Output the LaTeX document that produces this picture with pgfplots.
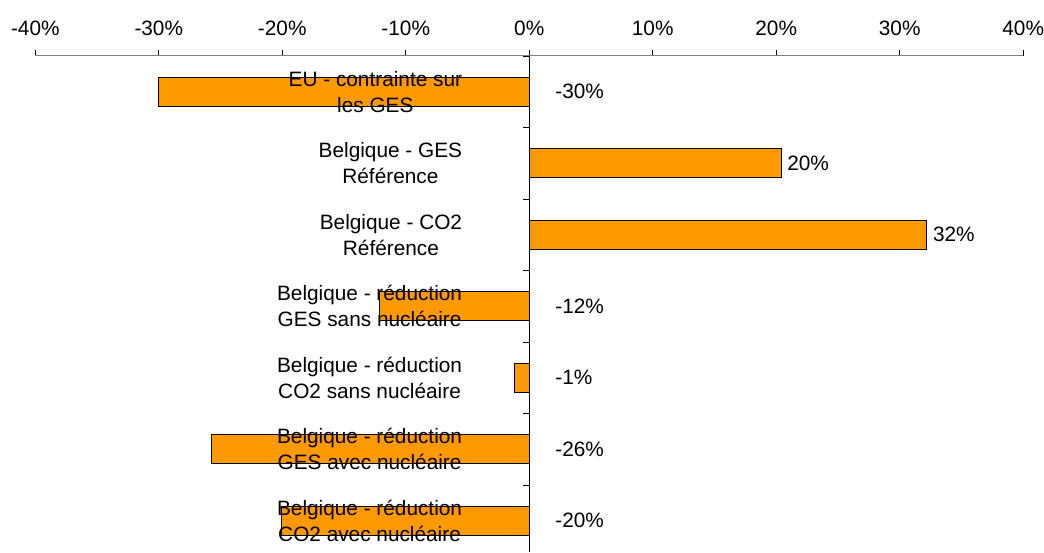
\documentclass[border=0pt]{standalone}
\usepackage{pgfplots}
\pgfplotsset{compat=1.18}
\usepackage{pgfplotstable}
\usepackage{fontspec}
\setmainfont{Liberation Sans}

\definecolor{barorange}{RGB}{255,153,0}
\definecolor{axisgray}{RGB}{128,128,128}
\newcommand{\chartfont}{\fontsize{20.8}{26.3}\selectfont}

% idx: row from the top, v: change in percent
\pgfplotstableread{
idx v
0 -30.0
1 20.4
2 32.2
3 -12.1
4 -1.2
5 -25.7
6 -20.1
}\data

\begin{document}
\begin{tikzpicture}[x=1pt,y=1pt]
\begin{axis}[
  at={(35.3pt,496pt)}, anchor=north west,
  width=988pt, height=496pt, scale only axis,
  axis on top,
  xmin=-40, xmax=40, ymin=-0.5, ymax=6.4357,
  y dir=reverse,
  axis x line*=top,
  axis y line*=left,
  x axis line style={draw=axisgray, line width=1pt, -},
  y axis line style={draw=none},
  xtick={-40,-30,...,40},
  xtick style={draw=black, line width=0.8pt},
  xtick align=outside,
  major tick length=6pt,
  /pgf/number format/assume math mode=true,
  xticklabel={\pgfmathprintnumber{\tick}\%},
  xticklabel style={font=\chartfont, inner sep=0pt, yshift=14pt},
  ytick={0,...,6},
  ytick style={draw=none},
  yticklabels={{EU - contrainte sur\\les GES},
               {Belgique - GES\\Référence},
               {Belgique - CO2\\Référence},
               {Belgique - réduction\\GES sans nucléaire},
               {Belgique - réduction\\CO2 sans nucléaire},
               {Belgique - réduction\\GES avec nucléaire},
               {Belgique - réduction\\CO2 avec nucléaire}},
  yticklabel style={font=\chartfont, align=center, anchor=east, inner sep=0pt, xshift=427pt},
  clip=false,
]
% the bars
\addplot[xbar, bar width=29pt, fill=barorange, draw=black, line width=0.8pt]
  table[x=v, y=idx] {\data};

% value labels: right of the zero line for decreases
\addplot[draw=none, mark=none, point meta=\thisrow{v},
  restrict expr to domain={\thisrow{v}}{-100:0},
  nodes near coords={\pgfmathprintnumber[fixed,precision=0,assume math mode=true]{\pgfplotspointmeta}\%},
  nodes near coords style={font=\chartfont, anchor=west, inner sep=0pt, xshift=26pt}]
  table[x expr=0, y=idx] {\data};

% value labels: past the bar end for increases
\addplot[draw=none, mark=none, point meta=\thisrow{v},
  restrict expr to domain={\thisrow{v}}{0:100},
  nodes near coords={\pgfmathprintnumber[fixed,precision=0,assume math mode=true]{\pgfplotspointmeta}\%},
  nodes near coords style={font=\chartfont, anchor=west, inner sep=0pt, xshift=6pt}]
  table[x=v, y=idx] {\data};

% category axis at zero with ticks between categories
\draw[black, line width=0.8pt] ([yshift=6pt]axis cs:0,-0.5) -- (axis cs:0,6.4357);
\pgfplotsinvokeforeach{-0.5,0.5,...,5.5}{
  \draw[black, line width=0.8pt] (axis cs:0,#1) -- ([xshift=-6pt]axis cs:0,#1);
}
\end{axis}
\path[use as bounding box] (0,0) rectangle (1044,552);
\end{tikzpicture}
\end{document}
